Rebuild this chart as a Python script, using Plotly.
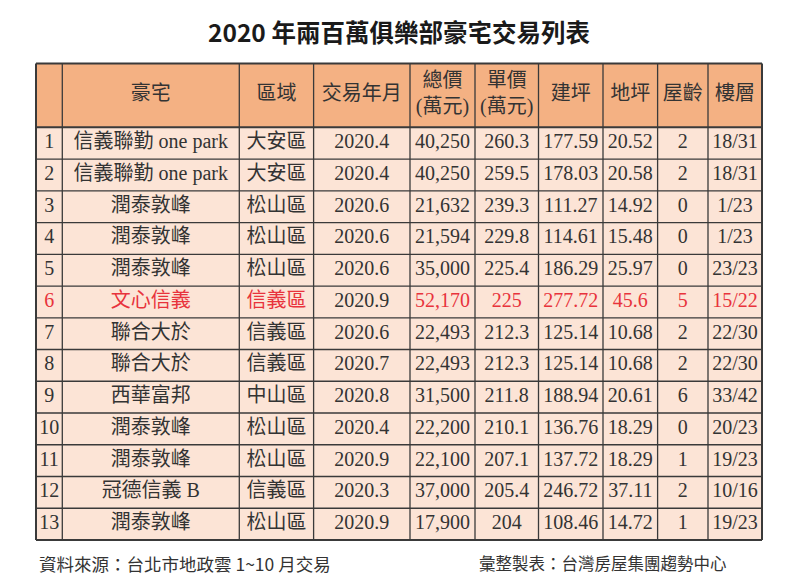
import numpy as np
import plotly.graph_objects as go

# ---------------- data ----------------
headers = ["", "豪宅", "區域", "交易年月", "總價<br>(萬元)", "單價<br>(萬元)", "建坪", "地坪", "屋齡", "樓層"]
ranks = list(range(1, 14))
names = ["信義聯勤 one park", "信義聯勤 one park", "潤泰敦峰", "潤泰敦峰", "潤泰敦峰", "文心信義",
         "聯合大於", "聯合大於", "西華富邦", "潤泰敦峰", "潤泰敦峰", "冠德信義 B", "潤泰敦峰"]
districts = ["大安區", "大安區", "松山區", "松山區", "松山區", "信義區", "信義區", "信義區",
             "中山區", "松山區", "松山區", "信義區", "松山區"]
dates = ["2020.4", "2020.4", "2020.6", "2020.6", "2020.6", "2020.9", "2020.6", "2020.7",
         "2020.8", "2020.4", "2020.9", "2020.3", "2020.9"]
total_price = [40250, 40250, 21632, 21594, 35000, 52170, 22493, 22493, 31500, 22200, 22100, 37000, 17900]
unit_price = [260.3, 259.5, 239.3, 229.8, 225.4, 225, 212.3, 212.3, 211.8, 210.1, 207.1, 205.4, 204]
building_ping = [177.59, 178.03, 111.27, 114.61, 186.29, 277.72, 125.14, 125.14, 188.94,
                 136.76, 137.72, 246.72, 108.46]
land_ping = [20.52, 20.58, 14.92, 15.48, 25.97, 45.6, 10.68, 10.68, 20.61, 18.29, 18.29, 37.11, 14.72]
house_age = [2, 2, 0, 0, 0, 5, 2, 2, 6, 0, 1, 2, 1]
floors = ["18/31", "18/31", "1/23", "1/23", "23/23", "15/22", "22/30", "22/30", "33/42",
          "20/23", "19/23", "10/16", "19/23"]
highlight_row = 6          # rank shown in red
highlight_skip_col = 3     # the 交易年月 cell of that row stays dark

title_text = "2020 年兩百萬俱樂部豪宅交易列表"
source_text = "資料來源：台北市地政雲 1~10 月交易"
maker_text = "彙整製表：台灣房屋集團趨勢中心"

# ---------------- layout geometry ----------------
col_edges = [36, 62.3, 239.3, 313.6, 410, 475, 538.5, 603, 657.6, 708, 762]
header_top, header_bottom, table_bottom = 63.5, 127.3, 540
PAGE_OFFSET = 8   # default body margin of the html page

HEADER_FILL = "#F4B183"
ROW_FILL = "#FCE4D6"
LINE = "#3a3a3a"
TEXT = "#333333"
RED = "#E8333C"
FONT = "Liberation Serif, Noto Sans CJK TC, serif"

n = len(ranks)
row_h = (table_bottom - header_bottom) / n
row_edges = [header_bottom + i * row_h for i in range(n + 1)]
row_centers = [(row_edges[i] + row_edges[i + 1]) / 2 for i in range(n)]
col_centers = [(col_edges[i] + col_edges[i + 1]) / 2 for i in range(len(col_edges) - 1)]

columns = [
    [str(r) for r in ranks],
    names,
    districts,
    dates,
    [f"{v:,}" for v in total_price],
    [f"{v:g}" for v in unit_price],
    [f"{v:g}" for v in building_ping],
    [f"{v:g}" for v in land_ping],
    [str(v) for v in house_age],
    floors,
]

fig = go.Figure()

shapes = []
# cell fills
shapes.append(dict(type="rect", xref="x", yref="y", x0=col_edges[0], x1=col_edges[-1],
                   y0=header_top, y1=header_bottom, fillcolor=HEADER_FILL, line_width=0, layer="below"))
shapes.append(dict(type="rect", xref="x", yref="y", x0=col_edges[0], x1=col_edges[-1],
                   y0=header_bottom, y1=table_bottom, fillcolor=ROW_FILL, line_width=0, layer="below"))
# horizontal grid lines
for k, y in enumerate([header_top] + row_edges):
    w = 2 if k in (0, 1, len(row_edges)) else 1.3
    shapes.append(dict(type="line", xref="x", yref="y", x0=col_edges[0], x1=col_edges[-1],
                       y0=y, y1=y, line=dict(color=LINE, width=w)))
# vertical grid lines
for k, x in enumerate(col_edges):
    w = 2 if k in (0, len(col_edges) - 1) else 1.3
    shapes.append(dict(type="line", xref="x", yref="y", x0=x, x1=x,
                       y0=header_top, y1=table_bottom, line=dict(color=LINE, width=w)))

# header text
fig.add_trace(go.Scatter(
    x=col_centers, y=[(header_top + header_bottom) / 2] * len(col_centers),
    mode="text", text=headers, textposition="middle center",
    textfont=dict(family=FONT, size=20, color=TEXT), hoverinfo="skip", showlegend=False))

# body text, one trace per column
for ci, (cx, vals) in enumerate(zip(col_centers, columns)):
    colors = []
    for ri in range(n):
        if ranks[ri] == highlight_row and ci != highlight_skip_col:
            colors.append(RED)
        else:
            colors.append(TEXT)
    fig.add_trace(go.Scatter(
        x=[cx] * n, y=row_centers, mode="text", text=vals, textposition="middle center",
        textfont=dict(family=FONT, size=20, color=colors), hoverinfo="skip", showlegend=False))

annotations = [
    dict(x=399, y=31, xref="x", yref="y", text=f"<b>{title_text}</b>", showarrow=False,
         font=dict(family="Noto Sans CJK TC", size=24.5, color="#1a1a1a"), xanchor="center", yanchor="middle"),
    dict(x=37, y=563, xref="x", yref="y", text=source_text, showarrow=False,
         font=dict(family="Noto Sans CJK TC", size=17.5, color=TEXT), xanchor="left", yanchor="middle"),
    dict(x=477, y=563, xref="x", yref="y", text=maker_text, showarrow=False,
         font=dict(family="Noto Sans CJK TC", size=16.5, color=TEXT), xanchor="left", yanchor="middle"),
]

fig.update_layout(
    width=800, height=583,
    margin=dict(l=0, r=0, t=0, b=0),
    paper_bgcolor="white", plot_bgcolor="white",
    xaxis=dict(range=[PAGE_OFFSET, 800 + PAGE_OFFSET], visible=False, fixedrange=True),
    yaxis=dict(range=[583 + PAGE_OFFSET, PAGE_OFFSET], visible=False, fixedrange=True),
    shapes=shapes, annotations=annotations,
)

fig.write_html("out.html")
